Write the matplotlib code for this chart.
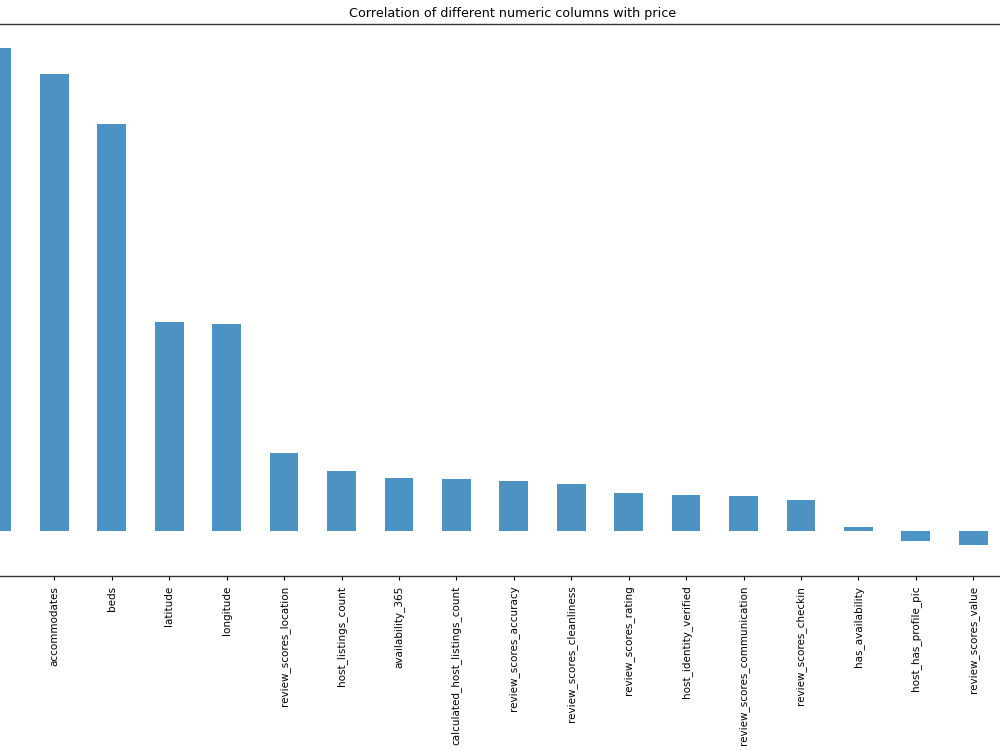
import pandas as pd
import matplotlib.pyplot as plt

# Correlation of each numeric column with price
columns = ["bedrooms", "accommodates", "beds", "latitude", "longitude",
           "review_scores_location", "host_listings_count", "availability_365",
           "calculated_host_listings_count", "review_scores_accuracy",
           "review_scores_cleanliness", "review_scores_rating",
           "host_identity_verified", "review_scores_communication",
           "review_scores_checkin", "has_availability", "host_has_profile_pic",
           "review_scores_value"]
correlations = [0.604, 0.571, 0.509, 0.262, 0.259, 0.098, 0.076, 0.067,
                0.066, 0.063, 0.059, 0.048, 0.046, 0.044, 0.039, 0.006,
                -0.012, -0.017]

corr = pd.Series(correlations, index=columns)

fig = plt.figure(figsize=(10, 7.5), dpi=100)
ax = fig.add_axes([-0.0318, 0.232, 1.0338, 0.736])
corr.plot(kind="bar", ax=ax, color="#1f77b4", alpha=0.8, width=0.5)

ax.set_ylim(-0.0556, 0.634)
ax.set_yticks([])
ax.tick_params(axis="x", labelsize=7.5, length=3, pad=4)
ax.spines["left"].set_visible(False)
for side in ["top", "bottom"]:
    ax.spines[side].set_linewidth(1.0)
    ax.spines[side].set_color("#333333")
ax.set_title("Correlation of different numeric columns with price",
             fontsize=9.2, x=0.5265, pad=5)

fig.savefig("out.png", dpi=100)
